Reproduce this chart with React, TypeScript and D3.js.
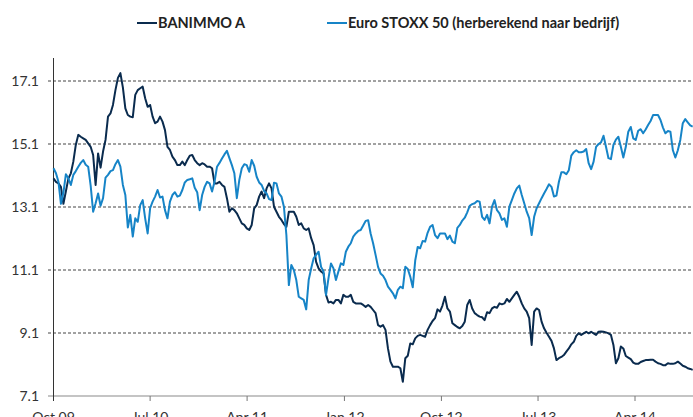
import React from 'react';
import * as d3 from 'd3';

const startDate = new Date(2009, 9, 1);
const stepDays = 7;

const banimmo = [
  14.01, 13.9, 13.85, 13.74, 13.2, 13.6, 14.0, 14.17, 14.54, 15.07,
  15.39, 15.33, 15.28, 15.23, 15.12, 15.01, 14.75, 13.8, 14.8, 14.35,
  14.86, 15.23, 15.97, 16.07, 16.34, 16.81, 17.2, 17.35, 16.9, 16.23,
  16.02, 15.97, 15.95, 16.66, 16.81, 16.87, 16.92, 16.55, 16.28, 16.34,
  15.97, 15.76, 15.81, 15.97, 15.81, 15.54, 15.01, 14.91, 14.7, 14.59,
  14.43, 14.43, 14.54, 14.43, 14.59, 14.73, 14.75, 14.59, 14.49, 14.43,
  14.49, 14.45, 14.38, 14.38, 14.33, 13.85, 13.85, 13.9, 13.8, 13.74,
  13.38, 12.95, 13.06, 13.0, 12.9, 12.74, 12.58, 12.53, 12.42, 12.37,
  12.53, 13.06, 13.16, 13.43, 13.59, 13.38, 13.69, 13.85, 13.69, 13.11,
  12.95, 12.79, 12.69, 12.56, 12.47, 12.95, 12.95, 12.95, 12.79, 12.53,
  12.58, 12.42, 12.37, 12.42, 12.11, 11.89, 11.36, 11.15, 11.05, 10.99,
  10.31, 10.07, 10.09, 10.04, 10.15, 10.15, 10.04, 10.31, 10.25, 10.25,
  10.31, 10.09, 10.04, 10.04, 10.04, 9.99, 9.93, 9.99, 9.93, 9.83,
  9.73, 9.35, 9.3, 9.35, 9.2, 8.61, 8.19, 8.03, 8.03, 8.03,
  7.98, 7.55, 8.3, 8.38, 8.77, 8.74, 8.93, 9.01, 9.04, 9.01,
  8.98, 9.2, 9.35, 9.48, 9.57, 9.85, 9.78, 9.97, 10.25, 9.88,
  9.78, 9.41, 9.35, 9.29, 9.25, 9.32, 9.46, 9.99, 10.15, 9.88,
  9.73, 9.67, 9.62, 9.6, 9.51, 9.76, 9.73, 9.88, 9.93, 9.9,
  10.04, 10.01, 10.04, 10.18, 10.09, 10.2, 10.31, 10.41, 10.25, 10.04,
  9.88, 9.78, 9.57, 8.72, 9.78, 9.88, 9.83, 9.46, 9.25, 9.11,
  8.98, 8.85, 8.61, 8.24, 8.3, 8.34, 8.4, 8.51, 8.61, 8.74,
  8.82, 9.01, 9.09, 9.04, 9.09, 9.14, 9.09, 9.14, 9.09, 9.04,
  9.14, 9.15, 9.14, 9.12, 9.09, 9.04, 8.72, 8.14, 8.3, 8.67,
  8.61, 8.37, 8.32, 8.27, 8.16, 8.12, 8.12, 8.18, 8.21, 8.24,
  8.24, 8.25, 8.25, 8.19, 8.14, 8.12, 8.08, 8.08, 8.14, 8.12,
  8.12, 8.14, 8.19, 8.13, 8.06, 8.03, 7.98, 7.96, 7.93,
];

const stoxx = [
  14.33, 14.17, 13.9, 13.2, 13.55, 14.14, 14.01, 13.8, 14.12, 14.24,
  14.38, 14.5, 14.59, 14.44, 14.38, 13.78, 12.95, 13.22, 13.53, 13.14,
  13.38, 14.03, 14.12, 14.24, 14.27, 14.46, 14.59, 14.38, 13.8, 13.48,
  12.45, 12.85, 12.16, 12.74, 12.63, 13.16, 13.32, 12.74, 12.26, 13.06,
  13.27, 13.43, 13.64, 13.4, 13.43, 13.0, 12.74, 13.27, 13.48, 13.57,
  13.43, 13.46, 13.64, 13.88, 13.96, 13.98, 14.01, 13.71, 13.57, 13.0,
  13.48, 13.74, 13.9, 13.85, 13.59, 13.9, 14.38, 14.5, 14.64, 14.77,
  14.88, 14.65, 14.43, 14.17, 13.38, 13.96, 14.33, 14.46, 14.43, 14.22,
  14.59, 14.41, 14.06, 13.88, 13.8, 13.61, 13.53, 13.35, 13.32, 13.87,
  13.85, 13.53, 13.43, 13.11, 12.21, 10.62, 11.26, 11.1, 10.78, 10.25,
  10.2, 10.15, 9.85, 10.78, 11.15, 11.47, 11.58, 11.68, 11.2, 11.05,
  10.31, 10.84, 11.31, 11.15, 10.78, 11.05, 11.31, 11.26, 11.68, 11.84,
  11.95, 12.16, 12.26, 12.34, 12.37, 12.51, 12.66, 12.68, 12.26, 11.95,
  11.58, 11.2, 10.99, 10.92, 10.78, 10.57, 10.47, 10.36, 10.2, 10.47,
  10.57, 10.52, 11.2, 11.13, 10.89, 10.55, 11.4, 11.83, 11.79, 12.02,
  12.0, 12.28, 12.47, 12.53, 12.21, 12.11, 12.26, 12.26, 12.26, 12.08,
  12.19, 12.0, 11.95, 12.44, 12.53, 12.67, 12.76, 12.93, 13.14, 13.19,
  13.22, 13.29, 13.27, 12.79, 12.69, 12.85, 12.58, 13.11, 13.32, 13.0,
  12.9, 12.69, 12.74, 12.47, 13.11, 13.32, 13.53, 13.69, 13.78, 13.48,
  13.22, 12.95, 12.75, 12.21, 12.79, 13.06, 13.22, 13.38, 13.53, 13.67,
  13.82, 13.74, 13.43, 13.46, 13.9, 14.2, 14.2, 14.14, 14.27, 14.73,
  14.84, 14.9, 14.84, 14.84, 14.86, 14.94, 14.49, 14.3, 14.54, 15.01,
  15.1, 15.15, 15.36, 15.01, 14.65, 14.62, 15.07, 15.24, 15.33, 15.01,
  14.67, 15.01, 15.49, 15.64, 15.28, 15.23, 15.52, 15.57, 15.44, 15.56,
  15.7, 15.83, 16.02, 16.02, 16.02, 15.86, 15.62, 15.44, 15.51, 15.49,
  14.9, 14.67, 14.9, 15.23, 15.76, 15.89, 15.79, 15.69, 15.65,
];

const tickDates = [
  new Date(2009, 9, 1), new Date(2010, 6, 1), new Date(2011, 3, 1),
  new Date(2012, 0, 1), new Date(2012, 9, 1), new Date(2013, 6, 1), new Date(2014, 3, 1),
];
const tickLabels = ['Oct 09', 'Jul 10', 'Apr 11', 'Jan 12', 'Oct 12', 'Jul 13', 'Apr 14'];
const yTicks = [7.1, 9.1, 11.1, 13.1, 15.1, 17.1];
const seriesNames = ['BANIMMO A', 'Euro STOXX 50 (herberekend naar bedrijf)'];
const seriesColors = ['#0a2b4e', '#1684c7'];

const W = 693;
const H = 417;
const FONT = 'Lato, "Liberation Sans", sans-serif';

export default function App() {
  const dates = banimmo.map((_, i) => d3.timeDay.offset(startDate, i * stepDays));
  const x = d3.scaleTime().domain([dates[0], dates[dates.length - 1]]).range([53.5, 692.7]);
  const y = d3.scaleLinear().domain([7.1, 17.1]).range([396, 81]);
  const line = d3.line<number>()
    .x((_, i) => x(dates[i]))
    .y((d) => y(d));
  const series = [banimmo, stoxx];
  const legendX = [137, 327];

  return (
    <svg width={W} height={H} style={{ position: 'absolute', left: 0, top: 0, background: '#fff' }}>
      <rect x={0} y={0} width={W} height={H} fill="#fff" />
      {yTicks.slice(1).map((t) => (
        <line key={t} x1={48} x2={W} y1={y(t)} y2={y(t)} stroke="#444" strokeWidth={1} strokeDasharray="3,2" />
      ))}
      {yTicks.map((t) => (
        <text key={'l' + t} x={39} y={y(t)} dy="0.35em" textAnchor="end" fontFamily={FONT} fontSize={14} fill="#333">
          {t.toFixed(1)}
        </text>
      ))}
      <line x1={48} x2={W} y1={y(7.1)} y2={y(7.1)} stroke="#8a8a8a" strokeWidth={1.2} />
      {tickDates.map((d, i) => (
        <g key={i}>
          <line x1={x(d)} x2={x(d)} y1={y(7.1)} y2={y(7.1) + 5} stroke="#777" strokeWidth={1} />
          <text x={x(d)} y={422} textAnchor="middle" fontFamily={FONT} fontSize={14} fill="#333">
            {tickLabels[i]}
          </text>
        </g>
      ))}
      <line x1={53.5} x2={53.5} y1={58} y2={401} stroke="#333" strokeWidth={1} />
      {series.map((s, k) => (
        <path key={k} d={line(s) || ''} fill="none" stroke={seriesColors[k]} strokeWidth={2} strokeLinejoin="round" />
      ))}
      {seriesNames.map((n, k) => (
        <g key={n}>
          <line x1={legendX[k]} x2={legendX[k] + 20} y1={23} y2={23} stroke={seriesColors[k]} strokeWidth={2} />
          <text x={legendX[k] + 21} y={27.5} fontFamily={FONT} fontWeight="bold" fontSize={14.5} fill="#222">
            {n}
          </text>
        </g>
      ))}
    </svg>
  );
}
